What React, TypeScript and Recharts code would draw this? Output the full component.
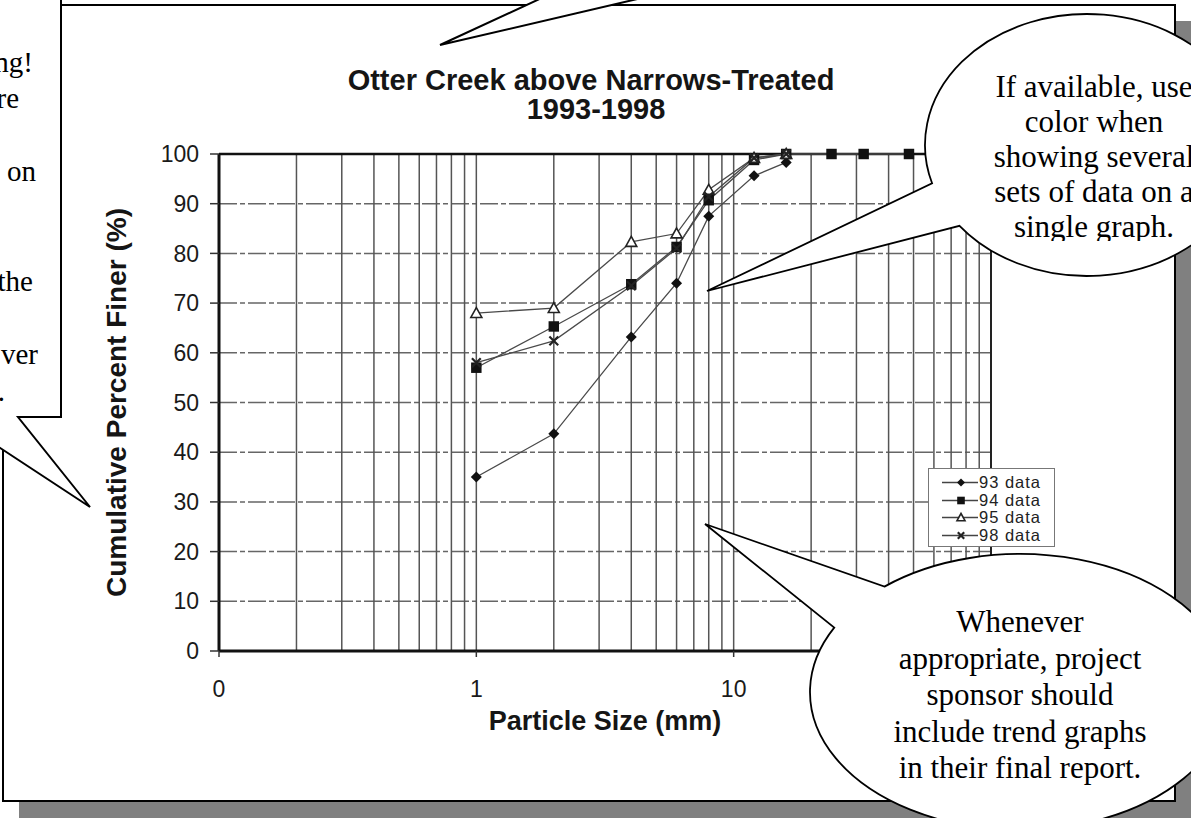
import React from 'react';
import {
  LineChart,
  Line,
  XAxis,
  YAxis,
  CartesianGrid,
  ReferenceLine,
  Legend,
  Label,
} from 'recharts';

// sieve sizes (mm) and cumulative percent finer
const sieveSizes = [1, 2, 4, 6, 8, 12, 16];
const sieveSizes94 = [1, 2, 4, 6, 8, 12, 16, 24, 32, 48];
const finer93 = [35, 43.7, 63.2, 74, 87.5, 95.6, 98.3];
const finer94 = [57, 65.3, 73.8, 81.3, 90.7, 98.8, 100, 100, 100, 100];
const finer95 = [68, 69, 82.3, 84, 92.8, 99.2, 100];
const finer98 = [58, 62.4, 73.5, 81, 91.4, 99.2, 100];

const yTicks = [0, 10, 20, 30, 40, 50, 60, 70, 80, 90, 100];
// the "100" label sits under the lower callout, so it is left out
const xTicks = [0.1, 1, 10];
const gridX = [
  0.2, 0.3, 0.4, 0.5, 0.6, 0.7, 0.8, 0.9, 1, 2, 3, 4, 5, 6, 7, 8, 9, 10, 20,
  30, 40, 50, 60, 70, 80, 90,
];

const titleLines = ['Otter Creek above Narrows-Treated', '1993-1998'];
const topNote = ['If available, use', 'color when', 'showing several', 'sets of data on a', 'single graph.'];
const bottomNote = [
  'Whenever',
  'appropriate, project',
  'sponsor should',
  'include trend graphs',
  'in their final report.',
];
// only the line ends of the left note show inside the picture
const leftNote = [
  { t: 'ng!', x: 33, y: 72 },
  { t: 're', x: 19, y: 108 },
  { t: 'on', x: 36, y: 181 },
  { t: 'the', x: 33, y: 291 },
  { t: 'ver', x: 38, y: 364 },
  { t: '.', x: 5, y: 401 },
];

type Kind = 'diamond' | 'square' | 'triangle' | 'cross';

const series: { name: string; kind: Kind; data: { x: number; y: number }[] }[] = [
  { name: '93 data', kind: 'diamond', data: sieveSizes.map((x, i) => ({ x, y: finer93[i] })) },
  { name: '94 data', kind: 'square', data: sieveSizes94.map((x, i) => ({ x, y: finer94[i] })) },
  { name: '95 data', kind: 'triangle', data: sieveSizes.map((x, i) => ({ x, y: finer95[i] })) },
  { name: '98 data', kind: 'cross', data: sieveSizes.map((x, i) => ({ x, y: finer98[i] })) },
];

const SANS = '"Liberation Sans", Arial, sans-serif';
const SERIF = '"Liberation Serif", "Times New Roman", serif';

const Marker = ({ kind, cx, cy, s }: { kind: Kind; cx: number; cy: number; s: number }) => {
  if (kind === 'diamond')
    return <path d={`M${cx},${cy - s}L${cx + s},${cy}L${cx},${cy + s}L${cx - s},${cy}Z`} fill="#111" />;
  if (kind === 'square')
    return <rect x={cx - s * 0.95} y={cy - s * 0.95} width={s * 1.9} height={s * 1.9} fill="#111" />;
  if (kind === 'triangle')
    return (
      <path
        d={`M${cx},${cy - s}L${cx + s},${cy + s * 0.8}L${cx - s},${cy + s * 0.8}Z`}
        fill="#fff"
        stroke="#222"
        strokeWidth={1.6}
      />
    );
  const d = s * 0.8;
  return (
    <path
      d={`M${cx - d},${cy - d}L${cx + d},${cy + d}M${cx + d},${cy - d}L${cx - d},${cy + d}`}
      stroke="#222"
      strokeWidth={2.2}
    />
  );
};

const makeDot = (kind: Kind) => (props: any) => {
  const { cx, cy, index } = props;
  if (cx == null || cy == null) return <g key={`${kind}-${index}`} />;
  return (
    <g key={`${kind}-${index}`}>
      <Marker kind={kind} cx={cx} cy={cy} s={5.5} />
    </g>
  );
};

const renderLegend = () => (
  <div
    style={{
      width: 127,
      height: 79,
      boxSizing: 'border-box',
      border: '1px solid #777',
      background: '#fff',
      paddingTop: 5,
      fontFamily: SANS,
      fontSize: 16.5,
      letterSpacing: 1,
      color: '#222',
    }}
  >
    {series.map((s) => (
      <div key={s.name} style={{ display: 'flex', alignItems: 'center', height: 17.5, lineHeight: '17.5px' }}>
        <svg width={50} height={17} style={{ flex: 'none' }}>
          <line x1={13} x2={49} y1={8.5} y2={8.5} stroke="#444" strokeWidth={1.3} />
          <Marker kind={s.kind} cx={32} cy={8.5} s={4} />
        </svg>
        <span style={{ whiteSpace: 'nowrap' }}>{s.name}</span>
      </div>
    ))}
  </div>
);

// speech bubble: ellipse with a wedge cut out between angles a1 and a2, ending at the tip
const bubblePath = (cx: number, cy: number, rx: number, ry: number, a1: number, a2: number, tip: number[]) => {
  const p = (a: number) => [cx + rx * Math.cos((a * Math.PI) / 180), cy + ry * Math.sin((a * Math.PI) / 180)];
  const [x1, y1] = p(a1);
  const [x2, y2] = p(a2);
  return `M${x1},${y1} A${rx},${ry} 0 1 1 ${x2},${y2} L${tip[0]},${tip[1]} Z`;
};

export default function App() {
  const abs: React.CSSProperties = { position: 'absolute', left: 0, top: 0 };
  return (
    <div style={{ ...abs, width: 1191, height: 818, overflow: 'hidden', background: '#fff' }}>
      {/* page frame with drop shadow */}
      <svg width={1191} height={818} style={abs}>
        <rect x={19} y={21} width={1172} height={797} fill="#808080" />
        <rect x={3} y={5} width={1172} height={796} fill="#fff" stroke="#000" strokeWidth={2} />
        {titleLines.map((t, i) => (
          <text
            key={t}
            x={i === 0 ? 591 : 596}
            y={i === 0 ? 90 : 119}
            textAnchor="middle"
            fontFamily={SANS}
            fontWeight="bold"
            fontSize={29}
            fill="#151515"
          >
            {t}
          </text>
        ))}
      </svg>

      <div style={abs}>
        <LineChart width={1191} height={818} margin={{ top: 154, right: 200, bottom: 123, left: 159 }}>
          <CartesianGrid
            vertical={false}
            stroke="#666"
            strokeWidth={1.5}
            strokeDasharray="18 3 5 3"
          />
          {gridX.map((v) => (
            <ReferenceLine key={v} x={v} stroke="#555" strokeWidth={1.5} />
          ))}
          <ReferenceLine y={100} stroke="#111" strokeWidth={2.5} />
          <ReferenceLine x={100} stroke="#222" strokeWidth={2} />
          <XAxis
            type="number"
            dataKey="x"
            scale="log"
            domain={[0.1, 100]}
            ticks={xTicks}
            allowDataOverflow
            height={44}
            tickSize={6}
            tickMargin={24}
            tickFormatter={(v: number) => (v < 1 ? '0' : String(v))}
            tick={{ fontSize: 23, fill: '#1a1a1a', fontFamily: SANS }}
            axisLine={{ stroke: '#111', strokeWidth: 3 }}
            tickLine={{ stroke: '#333', strokeWidth: 1.5 }}
          >
            <Label
              content={(p: any) => {
                const vb = p.viewBox;
                return (
                  <text
                    x={vb.x + vb.width / 2}
                    y={vb.y + 79}
                    textAnchor="middle"
                    fontFamily={SANS}
                    fontWeight="bold"
                    fontSize={27}
                    fill="#151515"
                  >
                    Particle Size (mm)
                  </text>
                );
              }}
            />
          </XAxis>
          <YAxis
            type="number"
            domain={[0, 100]}
            ticks={yTicks}
            width={60}
            tickSize={9}
            tickMargin={11}
            tick={{ fontSize: 23, fill: '#1a1a1a', fontFamily: SANS }}
            axisLine={{ stroke: '#111', strokeWidth: 3 }}
            tickLine={{ stroke: '#333', strokeWidth: 1.5 }}
          >
            <Label
              content={(p: any) => {
                const vb = p.viewBox;
                const x = vb.x - 33;
                const y = vb.y + vb.height / 2;
                return (
                  <text
                    x={x}
                    y={y}
                    transform={`rotate(-90 ${x} ${y})`}
                    textAnchor="middle"
                    fontFamily={SANS}
                    fontWeight="bold"
                    fontSize={28}
                    fill="#151515"
                  >
                    Cumulative Percent Finer (%)
                  </text>
                );
              }}
            />
          </YAxis>
          <Legend
            content={renderLegend}
            layout="vertical"
            align="center"
            verticalAlign="middle"
            wrapperStyle={{ position: 'absolute', left: 928, top: 468, width: 127, height: 79 }}
          />
          {series.map((s) => (
            <Line
              key={s.name}
              name={s.name}
              data={s.data}
              dataKey="y"
              type="linear"
              stroke="#4a4a4a"
              strokeWidth={1.3}
              dot={makeDot(s.kind)}
              activeDot={false}
              isAnimationActive={false}
            />
          ))}
        </LineChart>
      </div>

      {/* callouts laid over the chart */}
      <svg width={1191} height={818} style={{ ...abs, pointerEvents: 'none' }}>
        <defs>
          <clipPath id="topNoteClip">
            <rect x={900} y={0} width={300} height={241} />
          </clipPath>
        </defs>
        <path d="M440,45 L559,-10 L676,-10 Z" fill="#fff" stroke="#000" strokeWidth={2} />
        <path
          d="M-60,-60 L61,-60 L61,417 L18,417 L90,507 L-47,417 L-60,417 Z"
          fill="#fff"
          stroke="#000"
          strokeWidth={2}
        />
        {leftNote.map((l) => (
          <text key={l.y} x={l.x} y={l.y} textAnchor="end" fontFamily={SERIF} fontSize={29} fill="#000">
            {l.t}
          </text>
        ))}

        <path d={bubblePath(1087, 145, 162, 131, 163, 141.9, [707, 291])} fill="#fff" stroke="#000" strokeWidth={1.8} />
        <g clipPath="url(#topNoteClip)">
          {topNote.map((t, i) => (
            <text key={t} x={1094} y={97 + i * 35} textAnchor="middle" fontFamily={SERIF} fontSize={31} fill="#000">
              {t}
            </text>
          ))}
        </g>

        <path d={bubblePath(1020, 692, 210, 138, 229.8, 207.8, [705, 524])} fill="#fff" stroke="#000" strokeWidth={1.8} />
        {bottomNote.map((t, i) => (
          <text key={t} x={1020} y={632 + i * 36.6} textAnchor="middle" fontFamily={SERIF} fontSize={31} fill="#000">
            {t}
          </text>
        ))}
      </svg>
    </div>
  );
}
